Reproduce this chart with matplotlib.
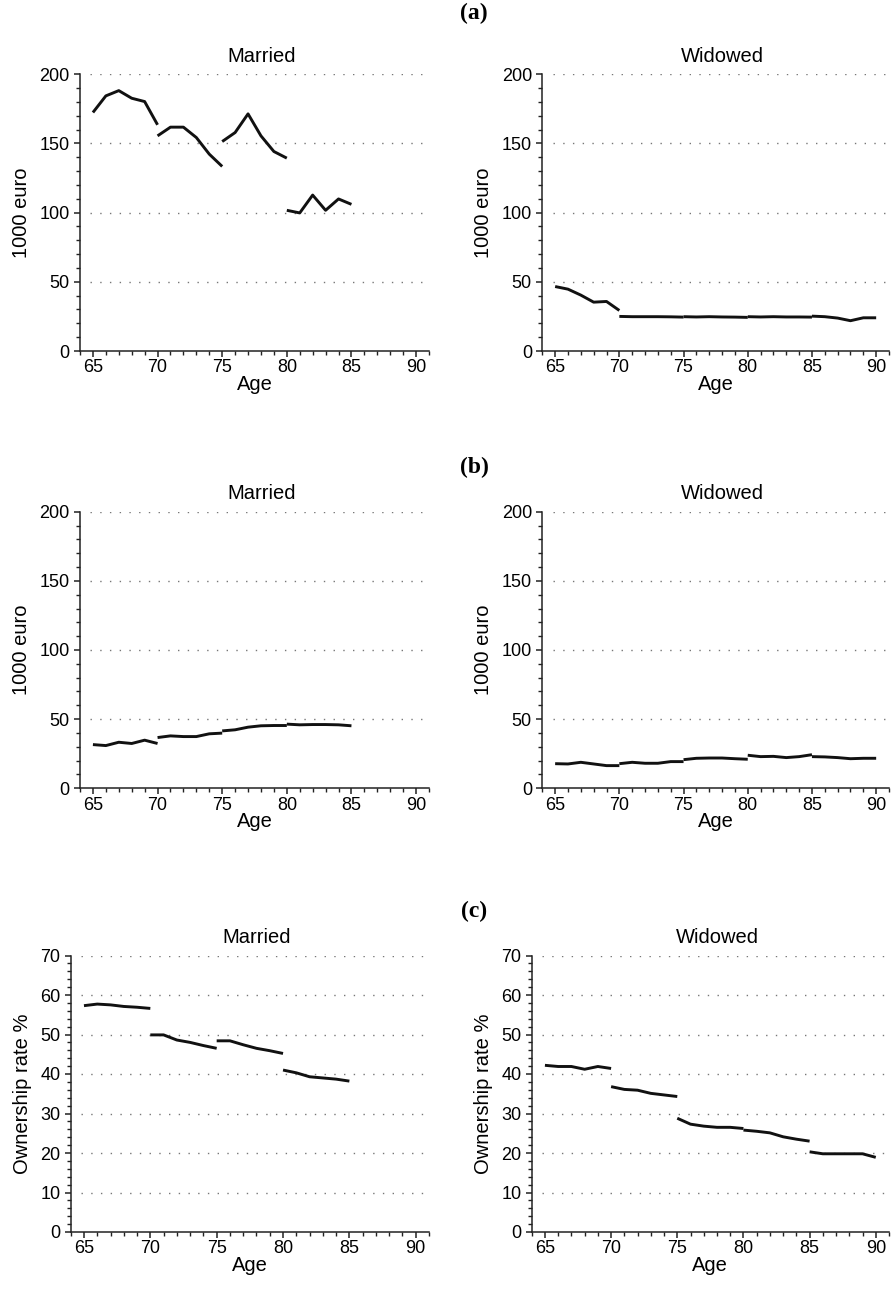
import numpy as np
import matplotlib
matplotlib.use("Agg")
import matplotlib.pyplot as plt
import matplotlib.ticker as mticker

plt.rcParams['font.family'] = ['Liberation Sans', 'DejaVu Sans']

# start age of each 5-year cohort segment
seg_start = [65, 70, 75, 80, 85]

# (a) values, 1000 euro
a_married = [
    [172.4, 184.4, 188.2, 182.7, 180.3, 163.5],
    [155.5, 161.8, 161.8, 154.3, 142.3, 133.4],
    [151.4, 157.9, 171.4, 155.5, 144.2, 139.4],
    [101.7, 99.8, 112.7, 101.7, 109.9, 106.0],
]
a_widowed = [
    [46.6, 44.7, 40.4, 35.3, 35.8, 29.3],
    [25.0, 24.8, 24.8, 24.8, 24.7, 24.5],
    [24.8, 24.6, 24.8, 24.6, 24.5, 24.3],
    [24.8, 24.6, 24.8, 24.6, 24.6, 24.5],
    [25.2, 24.8, 23.8, 21.9, 24.0, 24.0],
]
# (b) values, 1000 euro
b_married = [
    [31.6, 30.9, 33.3, 32.4, 34.8, 32.4],
    [36.7, 37.9, 37.4, 37.4, 39.4, 39.9],
    [41.5, 42.3, 44.2, 45.2, 45.4, 45.4],
    [46.4, 45.9, 46.1, 46.1, 45.9, 45.2],
]
b_widowed = [
    [17.8, 17.6, 18.8, 17.6, 16.4, 16.4],
    [17.8, 18.8, 18.1, 18.1, 19.3, 19.3],
    [20.7, 21.7, 21.9, 21.9, 21.4, 21.0],
    [23.9, 22.9, 23.1, 22.2, 22.9, 24.3],
    [22.9, 22.7, 22.2, 21.4, 21.7, 21.7],
]
# (c) ownership rate %
c_married = [
    [57.3, 57.7, 57.5, 57.1, 56.9, 56.6],
    [49.9, 49.9, 48.6, 48.0, 47.2, 46.5],
    [48.4, 48.4, 47.4, 46.5, 45.9, 45.2],
    [41.0, 40.3, 39.3, 39.0, 38.7, 38.2],
]
c_widowed = [
    [42.2, 41.9, 41.9, 41.2, 41.9, 41.4],
    [36.8, 36.1, 35.9, 35.1, 34.7, 34.3],
    [28.8, 27.3, 26.8, 26.5, 26.5, 26.2],
    [25.8, 25.5, 25.1, 24.1, 23.5, 23.0],
    [20.3, 19.8, 19.8, 19.8, 19.8, 18.9],
]

W, H = 894, 1292
fig = plt.figure(figsize=(W / 100, H / 100), dpi=100)


def px_axes(left, right, top, bottom):
    return fig.add_axes([left / W, 1 - bottom / H, (right - left) / W, (bottom - top) / H])


def draw(ax, segs, ymax, ymajor, yminor, title, ylabel):
    for s0, vals in zip(seg_start, segs):
        ages = np.arange(s0, s0 + len(vals))
        ax.plot(ages, vals, color='#111111', lw=2.1, solid_capstyle='butt')
    ax.set_xlim(64, 91)
    ax.set_ylim(0, ymax)
    ax.spines['top'].set_visible(False)
    ax.spines['right'].set_visible(False)
    for sp in ('left', 'bottom'):
        ax.spines[sp].set_linewidth(1.1)
        ax.spines[sp].set_color('#222222')
    ax.xaxis.set_major_locator(mticker.MultipleLocator(5))
    ax.xaxis.set_minor_locator(mticker.MultipleLocator(1))
    ax.yaxis.set_major_locator(mticker.MultipleLocator(ymajor))
    ax.yaxis.set_minor_locator(mticker.MultipleLocator(yminor))
    ax.tick_params(which='major', direction='out', length=4.5, width=1.1, labelsize=13, color='#222222')
    ax.tick_params(which='minor', direction='out', length=2.8, width=1.0, color='#222222')
    ax.tick_params(axis='x', which='major', pad=1.5)
    ax.tick_params(axis='y', which='major', pad=3)
    grid_y = np.arange(ymajor, ymax + ymajor / 2, ymajor)
    ax.hlines(grid_y, 64.8, 91, color='#777777', lw=1.0, ls=(0, (1, 6)), zorder=0)
    ax.set_title(title, fontsize=14.5, pad=9, x=0.52)
    ax.set_xlabel('Age', fontsize=14.5, labelpad=-1)
    ax.set_ylabel(ylabel, fontsize=14.5, labelpad=6)


rows = [
    (74.3, 351, a_married, a_widowed, 200, 50, 10, '1000 euro', '(a)', 80, 542.3, 13),
    (511.7, 788.3, b_married, b_widowed, 200, 50, 10, '1000 euro', '(b)', 80, 542.3, 467),
    (955.5, 1232, c_married, c_widowed, 70, 10, 2, 'Ownership rate %', '(c)', 70.7, 531.7, 911),
]

for top, bottom, mar, wid, ymax, ymaj, ymin, ylab, tag, l1, l2, tag_y in rows:
    ax1 = px_axes(l1, 429, top, bottom)
    draw(ax1, mar, ymax, ymaj, ymin, 'Married', ylab)
    ax2 = px_axes(l2, 889, top, bottom)
    draw(ax2, wid, ymax, ymaj, ymin, 'Widowed', ylab)
    fig.text(474 / W, 1 - tag_y / H, tag, ha='center', va='center',
             fontsize=17, fontweight='bold', family='Liberation Serif')

fig.savefig('out.png', dpi=100)
